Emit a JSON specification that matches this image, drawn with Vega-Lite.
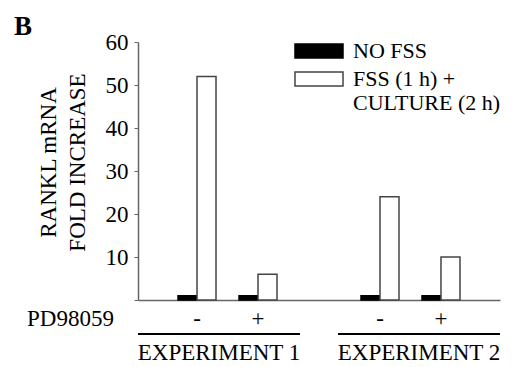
{
  "$schema": "https://vega.github.io/schema/vega-lite/v6.json",
  "autosize": "none",
  "width": 362,
  "height": 258,
  "padding": {"left": 138, "top": 42, "right": 18, "bottom": 67},
  "background": "white",
  "title": {"text": "B", "anchor": "start", "frame": "group", "dx": -124, "dy": 38, "offset": 7, "baseline": "alphabetic", "font": "Liberation Serif", "fontSize": 27, "fontWeight": "bold", "color": "black"},
  "datasets": {
    "bars": [
      {"exp": "EXPERIMENT 1", "cond": "E1-", "pd": "-", "series": "NO FSS", "value": 1},
      {"exp": "EXPERIMENT 1", "cond": "E1-", "pd": "-", "series": "FSS (1 h) + CULTURE (2 h)", "value": 52},
      {"exp": "EXPERIMENT 1", "cond": "E1+", "pd": "+", "series": "NO FSS", "value": 1},
      {"exp": "EXPERIMENT 1", "cond": "E1+", "pd": "+", "series": "FSS (1 h) + CULTURE (2 h)", "value": 6},
      {"exp": "EXPERIMENT 2", "cond": "E2-", "pd": "-", "series": "NO FSS", "value": 1},
      {"exp": "EXPERIMENT 2", "cond": "E2-", "pd": "-", "series": "FSS (1 h) + CULTURE (2 h)", "value": 24},
      {"exp": "EXPERIMENT 2", "cond": "E2+", "pd": "+", "series": "NO FSS", "value": 1},
      {"exp": "EXPERIMENT 2", "cond": "E2+", "pd": "+", "series": "FSS (1 h) + CULTURE (2 h)", "value": 10}
    ],
    "experiments": [
      {"exp": "EXPERIMENT 1"},
      {"exp": "EXPERIMENT 2"}
    ]
  },
  "layer": [
    {
      "data": {"name": "bars"},
      "mark": {"type": "bar", "strokeWidth": 1.5},
      "encoding": {
        "x": {
          "field": "cond", "type": "nominal",
          "scale": {"domain": ["E1-", "E1+", "gap", "E2-", "E2+"], "paddingInner": 0.377, "paddingOuter": 0.656},
          "axis": {
            "title": "PD98059",
            "titleX": -68, "titleY": 18, "titleAlign": "center", "titleBaseline": "middle",
            "titleFont": "Liberation Serif", "titleFontSize": 23, "titleFontWeight": "normal", "titleColor": "black",
            "labelExpr": "datum.value == 'E1-' || datum.value == 'E2-' ? '-' : (datum.value == 'gap' ? '' : '+')",
            "labelAngle": 0, "labelFont": "Liberation Serif", "labelFontSize": 23, "labelColor": "black",
            "labelBaseline": "middle", "labelPadding": 18,
            "ticks": false, "tickSize": 0, "domainColor": "#666", "domainWidth": 1.5
          }
        },
        "xOffset": {
          "field": "series", "type": "nominal",
          "scale": {"domain": ["NO FSS", "FSS (1 h) + CULTURE (2 h)"], "paddingInner": 0, "paddingOuter": 0}
        },
        "y": {
          "field": "value", "type": "quantitative",
          "scale": {"domain": [0, 60], "nice": false},
          "axis": {
            "values": [0, 10, 20, 30, 40, 50, 60],
            "labelExpr": "datum.value == 0 ? '' : datum.label",
            "grid": false, "tickSize": 4, "labelPadding": 6,
            "labelFont": "Liberation Serif", "labelFontSize": 23, "labelColor": "black",
            "domainColor": "#666", "tickColor": "#666", "domainWidth": 1.5,
            "title": ["RANKL mRNA", "FOLD INCREASE"],
            "titleFont": "Liberation Serif", "titleFontSize": 23, "titleFontWeight": "normal", "titleColor": "black",
            "titleX": -83, "titleY": 120, "titleAngle": 270, "titleAlign": "center", "titleBaseline": "alphabetic", "titleLineHeight": 29
          }
        },
        "fill": {
          "field": "series", "type": "nominal",
          "scale": {"domain": ["NO FSS", "FSS (1 h) + CULTURE (2 h)"], "range": ["#000000", "#ffffff"]},
          "legend": {
            "title": null, "orient": "none", "legendX": 170, "legendY": -2,
            "symbolType": "M-3.43,-1H3.43V1H-3.43Z", "symbolSize": 196,
            "symbolStrokeColor": "#333", "symbolStrokeWidth": 1.5,
            "labelExpr": "datum.value == 'NO FSS' ? 'NO FSS' : ['FSS (1 h) +', 'CULTURE (2 h)']",
            "labelFont": "Liberation Serif", "labelFontSize": 22, "labelColor": "black", "labelLimit": 0,
            "labelOffset": 23, "rowPadding": 6
          }
        },
        "stroke": {
          "field": "series", "type": "nominal",
          "scale": {"domain": ["NO FSS", "FSS (1 h) + CULTURE (2 h)"], "range": ["#000000", "#444444"]},
          "legend": null
        }
      }
    },
    {
      "data": {"name": "experiments"},
      "layer": [
        {
          "mark": {"type": "rule", "color": "black", "strokeWidth": 2},
          "encoding": {
            "x": {"field": "exp", "type": "nominal", "bandPosition": 0, "scale": {"type": "band", "paddingInner": 0.19, "paddingOuter": 0}, "axis": null},
            "x2": {"field": "exp", "bandPosition": 1},
            "y": {"datum": -7.9, "type": "quantitative"}
          }
        },
        {
          "mark": {"type": "text", "font": "Liberation Serif", "fontSize": 23, "color": "black", "baseline": "middle"},
          "encoding": {
            "x": {"field": "exp", "type": "nominal", "bandPosition": 0.5, "axis": null},
            "y": {"datum": -12.3, "type": "quantitative"},
            "text": {"field": "exp"}
          }
        }
      ]
    }
  ],
  "resolve": {"scale": {"x": "independent"}},
  "config": {"view": {"stroke": null}}
}
